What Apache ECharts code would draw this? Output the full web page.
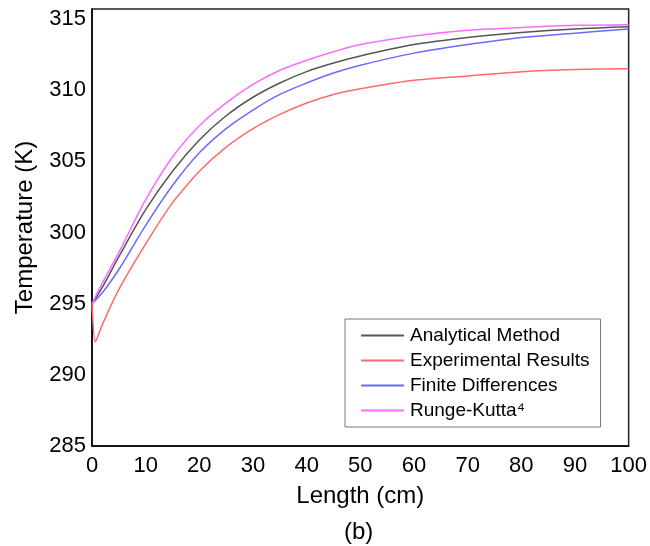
<!DOCTYPE html>
<html>
<head>
<meta charset="utf-8">
<script src="https://cdn.jsdelivr.net/npm/echarts@6/dist/echarts.min.js"></script>
<style>html,body{margin:0;padding:0;background:#fff}#c{width:650px;height:546px}</style>
</head>
<body>
<div id="c"></div>
<script>
// ---- data ----
var lengthGrid = [0, 2, 5, 10, 15, 20, 25, 30, 35, 40, 45, 50, 60, 70, 80, 90, 100];
var analytical = [295.0, 296.2, 298.3, 301.6, 304.3, 306.5, 308.2, 309.5, 310.5, 311.3, 311.9, 312.4, 313.2, 313.7, 314.05, 314.3, 314.45];
var finiteDiff = [295.0, 295.8, 297.4, 300.5, 303.3, 305.6, 307.3, 308.6, 309.7, 310.5, 311.2, 311.75, 312.6, 313.2, 313.7, 314.0, 314.3];
var rungeKutta = [295.0, 296.5, 298.6, 302.3, 305.3, 307.5, 309.1, 310.4, 311.4, 312.1, 312.7, 313.2, 313.8, 314.2, 314.4, 314.55, 314.6];
var expLength = [0, 0.6, 2, 5, 10, 15, 20, 25, 30, 35, 40, 45, 50, 60, 70, 80, 90, 100];
var experimental = [295.0, 292.3, 293.6, 296.0, 299.2, 302.1, 304.3, 306.0, 307.3, 308.3, 309.1, 309.7, 310.1, 310.7, 311.0, 311.3, 311.45, 311.5];
var seriesNames = ['Analytical Method', 'Experimental Results', 'Finite Differences', 'Runge-Kutta\u2074'];
var xTitle = 'Length (cm)';
var yTitle = 'Temperature (K)';
var caption = '(b)';

function pairs(xs, ys) { return xs.map(function (x, i) { return [x, ys[i]]; }); }

var font = 'Liberation Sans, Arial, sans-serif';
var chart = echarts.init(document.getElementById('c'));
function mk(name, xs, ys, color, sm) {
  return {
    name: name, type: 'line', data: pairs(xs, ys),
    symbol: 'none', smooth: sm,
    lineStyle: { color: color, width: 1.5 }, itemStyle: { color: color },
    animation: false
  };
}
chart.setOption({
  animation: false,
  grid: { left: 92, right: 21, top: 9, bottom: 100, show: true, borderColor: '#222', borderWidth: 1.5, backgroundColor: 'transparent' },
  xAxis: {
    type: 'value', min: 0, max: 100, interval: 10,
    name: xTitle, nameLocation: 'middle', nameGap: 38,
    nameTextStyle: { fontFamily: font, fontSize: 24, color: '#000' },
    axisLine: { show: true, lineStyle: { color: '#000', width: 1.5 } },
    axisTick: { show: false }, splitLine: { show: false },
    axisLabel: { fontFamily: font, fontSize: 22, color: '#000', margin: 9 }
  },
  yAxis: {
    type: 'value', min: 285, max: 315.7, interval: 5,
    name: yTitle, nameLocation: 'middle', nameGap: 55,
    nameTextStyle: { fontFamily: font, fontSize: 24, color: '#000' },
    axisLine: { show: true, lineStyle: { color: '#000', width: 1.5 } },
    axisTick: { show: false }, splitLine: { show: false },
    axisLabel: { fontFamily: font, fontSize: 22, color: '#000', margin: 6, showMaxLabel: false }
  },
  legend: {
    orient: 'vertical', left: 345, top: 319,
    data: seriesNames,
    padding: [7, 11, 7, 15],
    itemWidth: 43, itemHeight: 14, itemGap: 6,
    itemStyle: { opacity: 0 },
    borderColor: '#777', borderWidth: 1, backgroundColor: '#fff',
    textStyle: { fontFamily: font, fontSize: 19, color: '#000', padding: [0, 0, 0, 1] }
  },
  graphic: [{ type: 'text', left: 344, top: 520, style: { text: caption, font: '24px ' + font, fill: '#000' } }],
  series: [
    mk(seriesNames[0], lengthGrid, analytical, '#555555', 0.3),
    mk(seriesNames[1], expLength, experimental, '#ff6a6a', 0.2),
    mk(seriesNames[2], lengthGrid, finiteDiff, '#6a6aff', 0.3),
    mk(seriesNames[3], lengthGrid, rungeKutta, '#ff6aff', 0.3)
  ]
});
</script>
</body>
</html>
